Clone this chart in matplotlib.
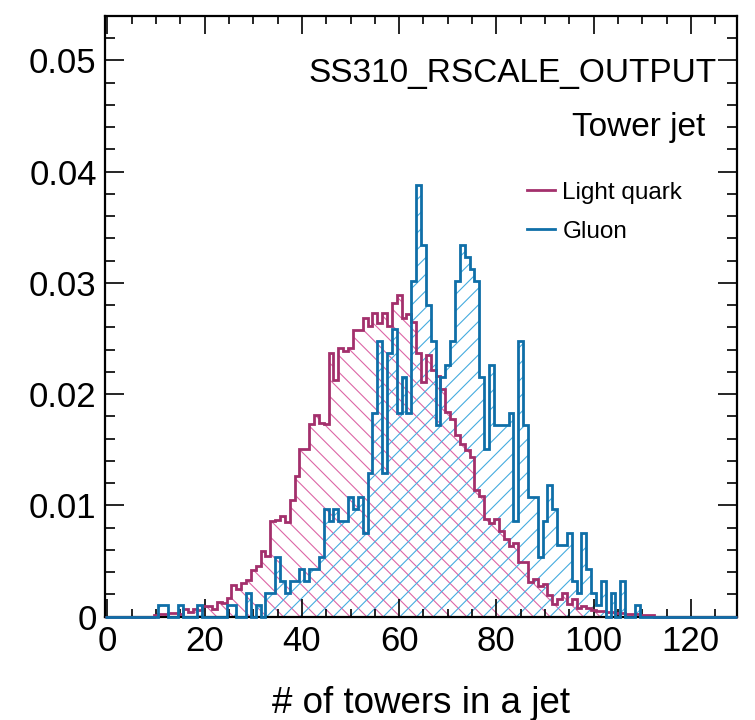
import numpy as np
import matplotlib
matplotlib.use("Agg")
import matplotlib.pyplot as plt
from matplotlib.lines import Line2D
from matplotlib.ticker import MultipleLocator, FixedLocator, FixedFormatter

# ---------------- data ----------------
n_bins = 130
x_range = (-0.5, 129.5)

# Light quark: normalized bin contents, starting at bin 10
quark_first_bin = 10
quark_values = [
    0.0001, 0.0002, 0.0002, 0.0003, 0.0003, 0.0002, 0.0007, 0.0004, 0.0007, 0.0006,  # 10-19
    0.0009, 0.0009, 0.0007, 0.0013, 0.0012, 0.0017, 0.0028, 0.0025, 0.0030, 0.0033,  # 20-29
    0.0042, 0.0045, 0.0059, 0.0054, 0.0086, 0.0087, 0.0090, 0.0085, 0.0105, 0.0126,  # 30-39
    0.0151, 0.0151, 0.0173, 0.0181, 0.0174, 0.0173, 0.0237, 0.0213, 0.0241, 0.0239,  # 40-49
    0.0241, 0.0258, 0.0258, 0.0268, 0.0261, 0.0273, 0.0264, 0.0273, 0.0261, 0.0282,  # 50-59
    0.0289, 0.0268, 0.0272, 0.0265, 0.0237, 0.0211, 0.0235, 0.0222, 0.0216, 0.0205,  # 60-69
    0.0184, 0.0178, 0.0163, 0.0155, 0.0150, 0.0143, 0.0114, 0.0108, 0.0088, 0.0084,  # 70-79
    0.0088, 0.0077, 0.0070, 0.0063, 0.0066, 0.0049, 0.0049, 0.0031, 0.0034, 0.0027,  # 80-89
    0.0029, 0.0019, 0.0011, 0.0016, 0.0021, 0.0011, 0.0016, 0.0008, 0.0009, 0.0008,  # 90-99
    0.0006, 0.0005, 0.0005, 0.0004, 0.0004, 0.0003, 0.0003, 0.0002, 0.0002, 0.0002,  # 100-109
    0.0001, 0.0001, 0.0001,                                                          # 110-112
]

# Gluon: entries per bin (histogram is normalized to unit area), starting at bin 11
gluon_first_bin = 11
gluon_counts = [
    1, 1, 0, 0, 1, 0, 0, 0, 1,                      # 11-19
    0, 0, 0, 0, 0, 1, 1, 0, 0, 2,                   # 20-29
    0, 1, 0, 2, 2, 5, 3, 2, 3, 3,                   # 30-39
    4, 3, 4, 4, 5, 9, 8, 9, 8, 8,                   # 40-49
    10, 9, 10, 7, 12, 17, 23, 12, 22, 24,           # 50-59
    17, 20, 17, 28, 36, 31, 26, 23, 16, 20,         # 60-69
    21, 23, 28, 31, 30, 29, 28, 20, 14, 21,         # 70-79
    16, 16, 16, 17, 8, 23, 16, 10, 10, 5,           # 80-89
    8, 11, 9, 6, 6, 7, 3, 2, 7, 4,                  # 90-99
    2, 1, 3, 0, 2, 0, 3, 0, 0, 1,                   # 100-109
]

series_labels = ["Light quark", "Gluon"]
title_main = "SS310_RSCALE_OUTPUT"
title_sub = "Tower jet"
x_title = "# of towers in a jet"
x_ticks = [0, 20, 40, 60, 80, 100, 120]
x_tick_labels = ["0", "20", "40", "60", "80", "100", "120"]
y_ticks = [0, 0.01, 0.02, 0.03, 0.04, 0.05]
y_tick_labels = ["0", "0.01", "0.02", "0.03", "0.04", "0.05"]
y_max = 0.054

# ---------------- build histograms ----------------
edges = np.arange(n_bins + 1) - 0.5
quark = np.zeros(n_bins)
quark[quark_first_bin:quark_first_bin + len(quark_values)] = quark_values
gluon = np.zeros(n_bins)
gluon[gluon_first_bin:gluon_first_bin + len(gluon_counts)] = gluon_counts
gluon = gluon / gluon.sum()

# ---------------- style ----------------
plt.rcParams["font.family"] = ["Liberation Sans", "DejaVu Sans"]
plt.rcParams["hatch.linewidth"] = 0.8

q_line = "#a3306c"
q_hatch = "#dc66a6"
g_line = "#0f6fa8"
g_hatch = "#45acdf"

fig = plt.figure(figsize=(7.55, 7.2), dpi=100)
ax = fig.add_axes([105 / 755, 1 - 616.5 / 720, 632 / 755, 600.5 / 720])

ax.stairs(quark, edges, fill=True, facecolor="none", edgecolor=q_hatch,
          hatch="\\\\", linewidth=0, zorder=1)
ax.stairs(gluon, edges, fill=True, facecolor="none", edgecolor=g_hatch,
          hatch="//", linewidth=0, zorder=1.1)
ax.stairs(quark, edges, color=q_line, linewidth=2.0, zorder=3, clip_on=False)
ax.stairs(gluon, edges, color=g_line, linewidth=2.0, zorder=3.1, clip_on=False)

ax.set_xlim(*x_range)
ax.set_ylim(0, y_max)

ax.xaxis.set_major_locator(FixedLocator(x_ticks))
ax.xaxis.set_major_formatter(FixedFormatter(x_tick_labels))
ax.xaxis.set_minor_locator(MultipleLocator(5))
ax.yaxis.set_major_locator(FixedLocator(y_ticks))
ax.yaxis.set_major_formatter(FixedFormatter(y_tick_labels))
ax.yaxis.set_minor_locator(MultipleLocator(0.002))

ax.tick_params(which="both", direction="in", top=True, right=True, width=1.2,
               color="black")
ax.tick_params(axis="x", which="major", length=13, pad=6, labelsize=25)
ax.tick_params(axis="x", which="minor", length=6)
ax.tick_params(axis="y", which="major", length=14, pad=6, labelsize=25)
ax.tick_params(axis="y", which="minor", length=7)
for s in ax.spines.values():
    s.set_linewidth(1.6)
    s.set_zorder(2.5)

ax.set_xlabel(x_title, fontsize=26.5, labelpad=20)

ax.text(0.967, 0.905, title_main, transform=ax.transAxes, ha="right",
        va="center", fontsize=24)
ax.text(0.949, 0.815, title_sub, transform=ax.transAxes, ha="right",
        va="center", fontsize=24)

handles = [Line2D([], [], color=q_line, lw=2.0), Line2D([], [], color=g_line, lw=2.0)]
ax.legend(handles, series_labels, loc="upper left", bbox_to_anchor=(0.668, 0.724),
          frameon=False, fontsize=17.5, handlelength=1.15, handletextpad=0.3,
          labelspacing=0.69, borderpad=0, borderaxespad=0)

fig.savefig("out.png", dpi=100)
